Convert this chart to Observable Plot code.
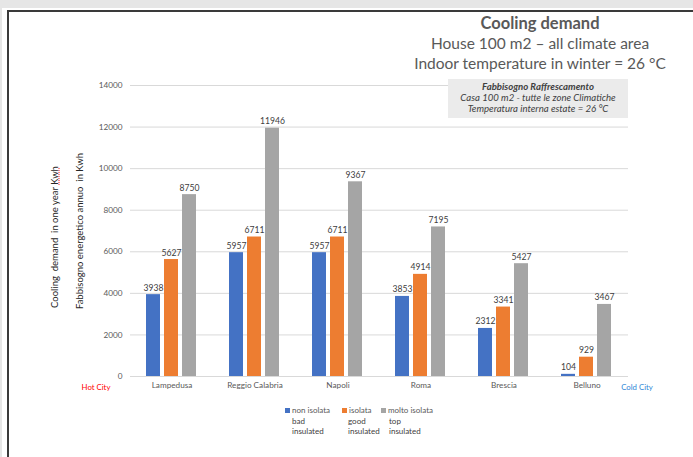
<!DOCTYPE html>
<html>
<head>
<meta charset="utf-8">
<script src="https://cdn.jsdelivr.net/npm/d3@7"></script>
<script src="https://cdn.jsdelivr.net/npm/@observablehq/plot@0.6"></script>
<style>
  html, body { margin: 0; padding: 0; background: #e6e6e6; overflow: hidden; width: 693px; height: 457px; }
  #page { position: relative; width: 693px; height: 457px; overflow: hidden; font-family: Lato, "Open Sans", sans-serif; }
  .abs { position: absolute; white-space: nowrap; }
  #white { left: 2px; top: 8px; right: -10px; bottom: -10px; background: #fff; }
  #frame { left: 7px; top: 10px; right: -10px; bottom: -10px; border-top: 2px solid #3a3a3a; border-left: 2px solid #3a3a3a; }
  .title { left: 400px; width: 280px; text-align: center; color: #595959; font-size: 15.5px; line-height: 20px; }
  #box { left: 448px; top: 79px; width: 180px; height: 39px; background: #ebebeb; color: #404040; font-style: italic;
         font-size: 9.6px; line-height: 11.2px; text-align: center; padding-top: 1.5px; box-sizing: border-box; }
  .ytitle { transform: translate(-50%, -50%) rotate(-90deg); font-size: 9.5px; color: #262626; }
  .side { font-size: 7.8px; transform: translate(-50%, -50%); }
  .leg { font-size: 8px; line-height: 10.5px; color: #404040; }
  .sw { display: inline-block; width: 5px; height: 5px; margin-right: 2px; vertical-align: 0px; }
</style>
</head>
<body>
<div id="page">
  <div id="white" class="abs"></div>
  <div id="frame" class="abs"></div>
</div>
<script>
// ---- data ----
const cities = ["Lampedusa", "Reggio Calabria", "Napoli", "Roma", "Brescia", "Belluno"];
const seriesNames = ["non isolata", "isolata", "molto isolata"];
const seriesEnglish = [["bad", "insulated"], ["good", "insulated"], ["top", "insulated"]];
const nonIsolata = [3938, 5957, 5957, 3853, 2312, 104];
const isolata = [5627, 6711, 6711, 4914, 3341, 929];
const moltoIsolata = [8750, 11946, 9367, 7195, 5427, 3467];
const yTicks = [0, 2000, 4000, 6000, 8000, 10000, 12000, 14000];
const seriesColors = ["#4472c4", "#ed7d31", "#a5a5a5"];

const titleLines = ["Cooling demand", "House 100 m2 \u2013 all climate area", "Indoor temperature in winter = 26 \u00b0C"];
const boxLines = ["Fabbisogno Raffrescamento", "Casa 100 m2 - tutte le zone Climatiche", "Temperatura interna estate = 26 \u00b0C"];

const seriesValues = [nonIsolata, isolata, moltoIsolata];
const data = cities.flatMap((city, i) =>
  seriesNames.map((s, j) => ({ city, series: s, value: seriesValues[j][i] }))
);

const common = {
  width: 693,
  height: 457,
  marginLeft: 130,
  marginRight: 65,
  marginTop: 85,
  marginBottom: 81,
  style: { fontFamily: "Lato, 'Open Sans', sans-serif", fontSize: "8.2px", color: "#595959", background: "transparent" },
  y: { domain: [0, 14000], axis: null }
};

// layer 1: grid + y axis (continuous across the whole plot)
const gridChart = Plot.plot({
  ...common,
  marks: [
    Plot.ruleY(yTicks, { stroke: "#d9d9d9", strokeWidth: 1 }),
    Plot.axisY({ ticks: yTicks, tickSize: 0, tickPadding: 8, tickFormat: d3.format("d"), label: null, fill: "#595959" })
  ]
});

// layer 2: grouped bars via fx facets
const barChart = Plot.plot({
  ...common,
  fx: { domain: cities, paddingInner: 0.386, paddingOuter: 0.193, label: null },
  x: { domain: seriesNames, paddingInner: 0.2, paddingOuter: 0, axis: null },
  color: { domain: seriesNames, range: seriesColors },
  marks: [
    Plot.barY(data, { fx: "city", x: "series", y: "value", fill: "series" }),
    Plot.text(data, { fx: "city", x: "series", y: "value", text: d => String(d.value), lineAnchor: "bottom", dy: -4, fill: "#404040", fontSize: 8.6 }),
    Plot.axisFx({ anchor: "bottom", tickSize: 0, tickPadding: 6, label: null, fill: "#595959" })
  ]
});

const page = document.getElementById("page");
for (const c of [gridChart, barChart]) {
  c.classList.add("abs");
  c.style.left = "0px";
  c.style.top = "0px";
  page.appendChild(c);
}

function addDiv(cls, css, html) {
  const d = document.createElement("div");
  d.className = "abs " + cls;
  Object.assign(d.style, css);
  d.innerHTML = html;
  page.appendChild(d);
  return d;
}

// titles
addDiv("title", { top: "13px", fontWeight: "bold", fontSize: "16.5px" }, titleLines[0]);
addDiv("title", { top: "33px" }, titleLines[1]);
addDiv("title", { top: "53px" }, titleLines[2]);

// box
const box = addDiv("", {}, `<b>${boxLines[0]}</b><br>${boxLines[1]}<br>${boxLines[2]}`);
box.id = "box";

// y titles
addDiv("ytitle", { left: "54px", top: "237px" }, 'Cooling&nbsp; demand&nbsp; in one year <span style="text-decoration: underline dotted red;">Kwh</span>');
addDiv("ytitle", { left: "79px", top: "231px" }, "Fabbisogno energetico annuo&nbsp; in Kwh");

// side labels
addDiv("side", { left: "96px", top: "387px", color: "#ff0000" }, "Hot City");
addDiv("side", { left: "637px", top: "387px", color: "#2e86d6" }, "Cold City");

// legend
const legLeft = [285, 342, 381];
const subIndent = [7, 6, 8];
seriesNames.forEach((s, i) => {
  addDiv("leg", { left: legLeft[i] + "px", top: "405px" },
    `<span class="sw" style="background:${seriesColors[i]}"></span><span style="color:#595959">${s}</span>` +
    `<div style="padding-left:${subIndent[i]}px">${seriesEnglish[i][0]}<br>${seriesEnglish[i][1]}</div>`);
});
</script>
</body>
</html>
